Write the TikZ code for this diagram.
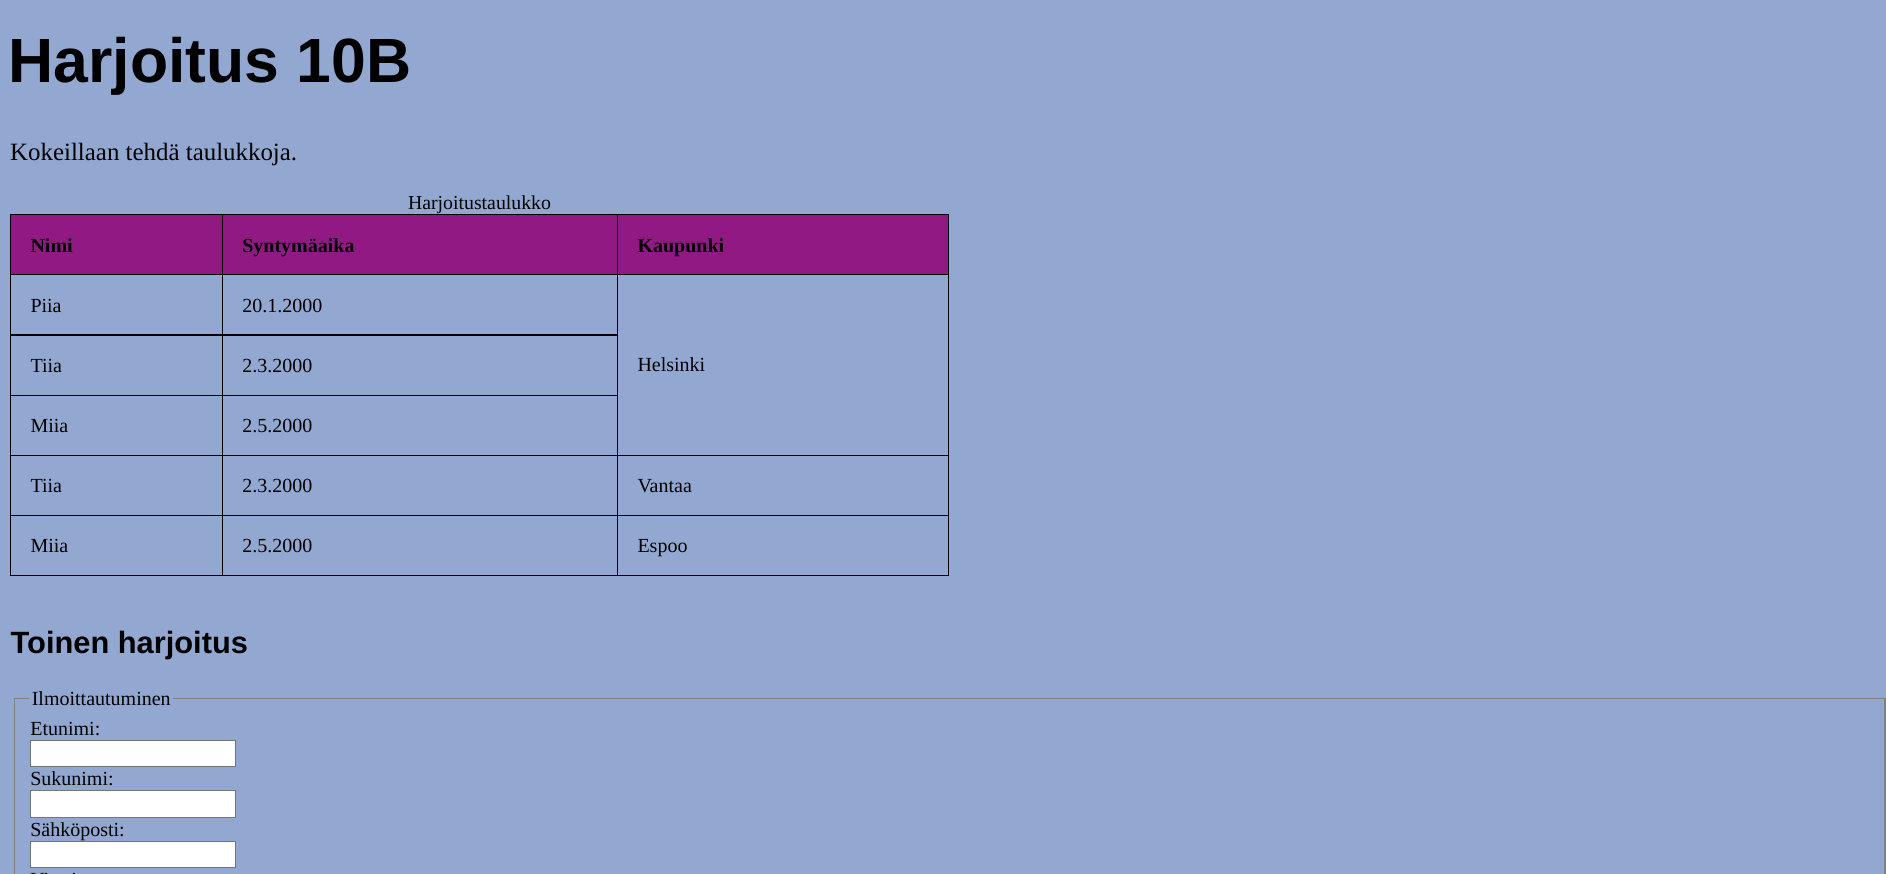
\documentclass[tikz,border=0pt]{standalone}
\usepackage{fontspec}
\setmainfont{Liberation Serif}
\newfontfamily\arialfont{Liberation Sans}
\definecolor{pagebg}{RGB}{146,168,209}
\definecolor{headbg}{RGB}{145,25,131}
\definecolor{fsgray}{RGB}{128,128,128}
\definecolor{inputgray}{RGB}{118,118,118}
\tikzset{
  txt/.style={inner sep=0pt, outer sep=0pt, anchor=base west, font=\fontsize{20}{24}\selectfont},
  headtxt/.style={txt, font=\fontsize{20}{24}\selectfont\bfseries},
  gridline/.style={draw=black, line width=1pt},
  inputbox/.style={fill=white, draw=inputgray, line width=1pt},
  fsline/.style={draw=fsgray, line width=1.6pt}
}
\begin{document}
\begin{tikzpicture}[x=1pt,y=-1pt]
\useasboundingbox (0,0) rectangle (1886,874);
\fill[pagebg] (0,0) rectangle (1886,874);
\clip (0,0) rectangle (1886,874);

% headings and intro
\node[inner sep=0pt, anchor=base west, font=\arialfont\fontsize{62.5}{62}\selectfont\bfseries] (title) at (8.5,83) {Harjoitus 10B};
\node[inner sep=0pt, anchor=base west, font=\fontsize{24.9}{28}\selectfont] (intro) at (10,161) {Kokeillaan tehdä taulukkoja.};
\node[inner sep=0pt, anchor=base, font=\fontsize{19.8}{24}\selectfont] (caption) at (479.5,209.3) {Harjoitustaulukko};

% table
\fill[headbg] (10.5,215) rectangle (948.5,275);
\draw[gridline] (10.5,215) rectangle (948.5,575);
\draw[gridline] (222.3,215) -- (222.3,575);
\draw[gridline] (617.7,215) -- (617.7,575);
\draw[gridline] (10.5,275) -- (948.5,275);
\draw[gridline] (10.5,335) -- (617.7,335);
\draw[gridline] (10.5,395) -- (617.7,395);
\draw[gridline] (10.5,455) -- (948.5,455);
\draw[gridline] (10.5,515) -- (948.5,515);

\node[headtxt] (h1) at (30.5,252.3) {Nimi};
\node[headtxt] (h2) at (242.3,252.3) {Syntymäaika};
\node[headtxt] (h3) at (637.5,252.3) {Kaupunki};

\node[txt] (r1a) at (30.5,312.3) {Piia};
\node[txt] (r1b) at (242.3,312.3) {20.1.2000};
\node[txt] (r2a) at (30.5,372.3) {Tiia};
\node[txt] (r2b) at (242.3,372.3) {2.3.2000};
\node[txt] (r3a) at (30.5,432.3) {Miia};
\node[txt] (r3b) at (242.3,432.3) {2.5.2000};
\node[txt] (hel) at (637.5,371.7) {Helsinki};
\node[txt] (r4a) at (30.5,492.3) {Tiia};
\node[txt] (r4b) at (242.3,492.3) {2.3.2000};
\node[txt] (r4c) at (637.5,492.3) {Vantaa};
\node[txt] (r5a) at (30.5,552.3) {Miia};
\node[txt] (r5b) at (242.3,552.3) {2.5.2000};
\node[txt] (r5c) at (637.5,552.3) {Espoo};

% second heading
\node[inner sep=0pt, anchor=base west, font=\arialfont\fontsize{30.8}{34}\selectfont\bfseries] (title2) at (10.5,653.3) {Toinen harjoitus};

% fieldset
\draw[fsline] (29.3,698.5) -- (14.5,698.5) -- (14.5,890);
\draw[fsline] (173.3,698.5) -- (1884.8,698.5) -- (1884.8,890);
\node[txt] (legend) at (31.8,705) {Ilmoittautuminen};

\node[txt] (l1) at (30.3,735) {Etunimi:};
\draw[inputbox] (30.7,740.7) rectangle (235.3,766);
\node[txt] (l2) at (30.3,785) {Sukunimi:};
\draw[inputbox] (30.7,790.7) rectangle (235.3,817.3);
\node[txt] (l3) at (30.3,836) {Sähköposti:};
\draw[inputbox] (30.7,841.7) rectangle (235.3,867.3);
\node[txt] (l4) at (30.3,886.5) {Viesti:};
\end{tikzpicture}
\end{document}
